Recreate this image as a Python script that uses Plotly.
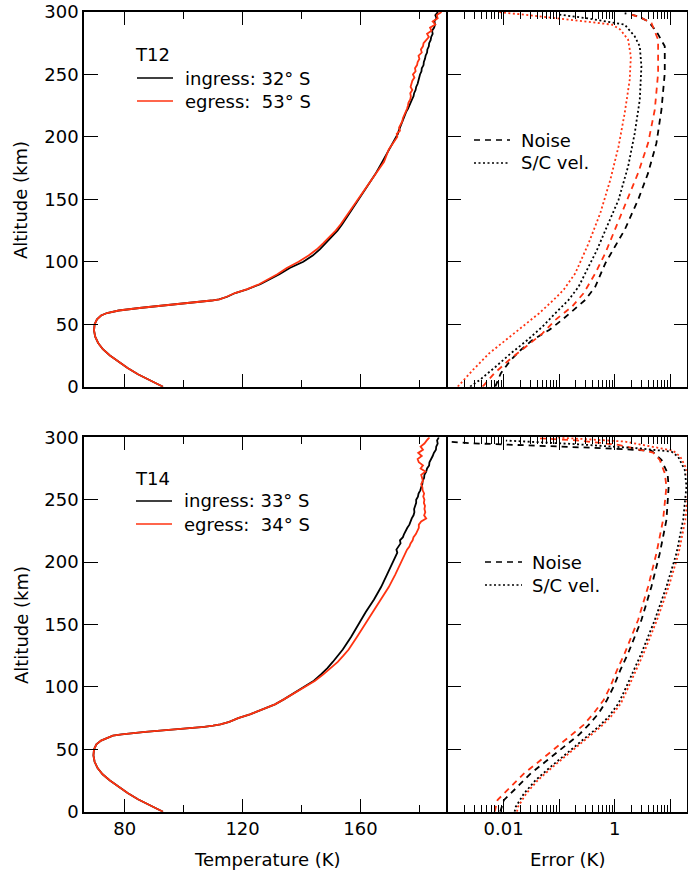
import plotly.graph_objects as go

# ---------------- DATA ----------------
# Temperature profiles (altitude km -> temperature K)
alt_T_low = [0, 5, 10, 15, 20, 25, 30, 35, 40, 45, 50, 54, 57, 59, 61, 62, 63, 64, 65, 66, 67, 68, 69, 70,
             72, 75, 78, 82, 86, 90, 95, 100, 105, 110, 115, 120, 125, 130, 140, 150, 160, 170, 180, 190]
alt_T_up = [200 + 2.5 * i for i in range(41)]
alt_T = alt_T_low + alt_T_up

t12_ing = [93.0, 88.5, 84.5, 81.0, 77.8, 75.0, 72.6, 71.0, 70.0, 69.6, 69.8, 70.6, 72.0, 74.0, 78.0, 81.0,
           85.0, 89.0, 93.5, 98.0, 102.5, 106.0, 109.5, 112.0, 114.8, 117.5, 121.5, 126.0, 129.5, 132.5,
           136.0, 140.6, 143.8, 146.2, 148.2, 150.2, 152.2, 153.8, 156.6, 159.3, 162.2, 165.0, 167.4, 169.8,
           172.2, 172.7, 173.0, 173.4, 173.7, 174.3, 174.5, 175.1, 175.5, 176.1, 176.5, 177.1, 177.5, 178.0,
           178.2, 178.7, 178.9, 179.4, 179.6, 180.0, 180.2, 180.7, 180.8, 181.4, 181.5, 181.9, 182.1, 182.6,
           182.7, 183.2, 183.3, 183.8, 184.0, 184.5, 184.3, 185.0, 185.3, 185.1, 185.8, 185.4, 186.3, 186.0, 186.9]
t12_egr = [93.0, 88.5, 84.5, 81.0, 77.8, 75.0, 72.6, 71.0, 70.0, 69.6, 69.8, 70.6, 72.0, 74.0, 78.0, 81.0,
           85.0, 89.0, 93.5, 98.0, 102.5, 106.0, 109.5, 112.2, 114.6, 117.4, 121.4, 125.6, 128.8, 131.8,
           135.0, 139.0, 142.4, 145.2, 147.4, 149.6, 151.6, 153.3, 156.3, 159.0, 162.0, 165.0, 168.0, 169.6,
           172.5, 172.3, 173.4, 173.1, 173.6, 174.2, 174.4, 174.9, 175.2, 175.8, 176.1, 176.3, 176.9, 177.1,
           176.9, 177.6, 177.0, 177.4, 177.6, 178.3, 177.8, 178.7, 178.5, 179.2, 179.4, 180.0, 179.7, 180.8,
           180.5, 181.2, 181.4, 182.3, 183.2, 182.6, 184.1, 183.6, 185.4, 184.5, 186.2, 185.9, 187.5]
t14_ing = [93.0, 88.5, 84.5, 81.0, 77.8, 75.0, 72.5, 70.8, 69.8, 69.4, 69.6, 70.4, 72.0, 74.0, 76.0, 79.0,
           82.5, 87.0, 92.0, 98.0, 103.0, 107.0, 110.0, 112.5, 115.5, 118.5, 122.5, 127.0, 131.0, 134.0,
           137.5, 141.0, 144.2, 146.6, 148.8, 150.6, 152.4, 154.0, 156.8, 159.2, 161.8, 164.6, 167.0, 169.0,
           171.0, 171.6, 171.9, 172.5, 172.2, 173.0, 173.6, 173.4, 174.4, 174.8, 175.3, 175.9, 176.6, 176.9,
           177.4, 178.0, 178.3, 178.2, 178.6, 178.9, 178.9, 179.5, 179.7, 180.3, 180.6, 181.0, 181.1, 181.6,
           181.7, 182.3, 182.6, 183.3, 183.4, 184.0, 184.5, 184.9, 185.6, 185.7, 186.2, 186.0, 186.6, 186.4, 186.8]
t14_egr = [93.0, 88.5, 84.5, 81.0, 77.8, 75.0, 72.5, 70.8, 69.8, 69.4, 69.6, 70.4, 72.0, 74.0, 76.0, 79.0,
           82.5, 87.0, 92.0, 98.0, 103.0, 107.0, 110.0, 112.5, 115.5, 118.5, 122.5, 127.0, 131.0, 134.0,
           137.5, 141.0, 144.6, 147.4, 150.0, 152.3, 154.2, 156.0, 158.8, 161.4, 164.2, 166.9, 169.6, 171.8,
           173.8, 174.3, 174.9, 175.4, 175.8, 176.6, 177.0, 177.7, 178.0, 178.8, 179.2, 179.8, 179.8, 180.6,
           182.3, 181.6, 182.0, 181.7, 181.9, 181.5, 181.7, 181.3, 181.6, 181.1, 181.0, 180.6, 181.2, 180.9,
           180.6, 182.0, 180.4, 181.2, 179.8, 179.4, 180.8, 179.6, 181.2, 180.4, 181.7, 182.5, 183.4, 184.6, 184.5]

# Error profiles (altitude km -> error K)
t12_noise_ing_alt = [0, 10.7, 21.4, 29.4, 37.4, 45.4, 53.4, 62.8, 69.5, 80.1, 98.8, 112.2, 125.6, 149.6,
                     171, 195, 221.7, 251, 272.5, 284.5, 292.5, 296.6, 299]
t12_noise_ing = [0.0071, 0.0089, 0.0135, 0.0204, 0.0331, 0.0661, 0.112, 0.195, 0.295, 0.447, 0.676, 1.01,
                 1.51, 2.63, 3.98, 5.62, 6.92, 7.94, 7.94, 5.62, 3.98, 2.63, 1.51]
t12_noise_egr_alt = [0, 10.7, 21.4, 32, 42.7, 53.4, 64.1, 74.8, 90.8, 106.9, 122.9, 144.3, 171, 195,
                     221.7, 251, 277.8, 291.2, 295.2, 297.9]
t12_noise_egr = [0.0042, 0.0068, 0.0126, 0.0251, 0.0501, 0.0851, 0.170, 0.275, 0.447, 0.676, 0.955, 1.51,
                 2.63, 3.98, 5.25, 6.03, 6.03, 4.57, 3.02, 2.0]
t12_vel_ing_alt = [0, 5.3, 16, 26.7, 37.4, 48.1, 58.8, 69.5, 80.1, 93.5, 109.5, 128.2, 149.6, 176.3, 203,
                   229.8, 256.5, 272.5, 280.5, 289.9, 291.2, 295.2, 297.9]
t12_vel_ing = [0.0025, 0.0037, 0.0072, 0.0135, 0.0269, 0.0501, 0.0851, 0.148, 0.224, 0.316, 0.479, 0.724,
               1.17, 1.74, 2.29, 2.82, 3.02, 2.82, 2.29, 1.51, 1.0, 0.295, 0.1]
t12_vel_egr_alt = [0, 13.4, 26.7, 37.4, 48.1, 58.8, 69.5, 77.5, 90.8, 114.9, 139, 165.6, 192.3, 219,
                   245.8, 264.5, 277.8, 285.9, 289.9, 293.9, 296.6, 300]
t12_vel_egr = [0.0015, 0.0028, 0.0055, 0.011, 0.0219, 0.0437, 0.0794, 0.120, 0.195, 0.339, 0.550, 0.832,
               1.17, 1.51, 1.86, 1.95, 1.74, 1.26, 0.891, 0.170, 0.0437, 0.0079]

t14_noise_ing_alt = [0, 9.4, 20, 30.7, 41.4, 52.1, 61.4, 69.5, 78.8, 89.5, 100.2, 113.5, 126.9, 153.6,
                     180.3, 207, 233.8, 260.5, 271.2, 281.9, 287.2, 289.3, 291.2, 293.1, 295.2, 296.6]
t14_noise_ing = [0.0087, 0.0102, 0.0178, 0.0309, 0.0617, 0.120, 0.224, 0.339, 0.513, 0.724, 0.955, 1.26,
                 1.74, 3.02, 4.57, 6.46, 8.51, 9.33, 8.91, 6.92, 5.25, 4.57, 0.676, 0.0437, 0.0028, 0.0009]
t14_noise_egr_alt = [0, 9.4, 20, 30.7, 41.4, 52.1, 61.4, 69.5, 78.8, 89.5, 100.2, 113.5, 126.9, 153.6,
                     180.3, 207, 233.8, 260.5, 271.2, 281.9, 287.7, 293.9, 297.4, 299.2]
t14_noise_egr = [0.0069, 0.0078, 0.0135, 0.0234, 0.0468, 0.0912, 0.170, 0.275, 0.417, 0.631, 0.832, 1.10,
                 1.51, 2.63, 3.98, 5.62, 7.41, 8.51, 7.94, 6.46, 4.90, 1.17, 0.224, 0.0437]
t14_vel_ing_alt = [0, 4, 14.7, 25.4, 36.1, 46.8, 57.4, 68.1, 76.1, 86.8, 100.2, 126.9, 153.6, 180.3, 207,
                   233.8, 260.5, 273.8, 284.5, 288.5, 291.2, 294.7, 297.4]
t14_vel_ing = [0.0158, 0.0166, 0.0234, 0.0380, 0.0708, 0.138, 0.275, 0.513, 0.776, 1.17, 1.62, 3.02, 5.25,
               8.51, 12.9, 17.0, 19.5, 18.2, 13.8, 10.5, 2.63, 0.170, 0.011]
t14_vel_egr_alt = [0, 4, 14.7, 25.4, 36.1, 46.8, 57.4, 68.1, 76.1, 86.8, 100.2, 126.9, 153.6, 180.3, 207,
                   233.8, 260.5, 273.8, 284.5, 289.3, 296.6, 300]
t14_vel_egr = [0.0174, 0.0182, 0.0257, 0.0417, 0.0776, 0.151, 0.302, 0.562, 0.851, 1.29, 1.78, 3.31, 5.75,
               9.33, 14.1, 18.6, 21.4, 20.0, 15.1, 11.2, 1.51, 0.0851]

temp_ticks = [80, 120, 160]
temp_minor = [100, 140, 180]
alt_ticks = [0, 50, 100, 150, 200, 250, 300]
err_ticks = [0.001, 0.01, 0.1, 1, 10]
err_ticktext = ["", "0.01", "", "1", ""]

# ---------------- LAYOUT ----------------
W, H = 688, 877
FONT = "DejaVu Sans"
BLACK = "#000000"
RED = "#ff3311"


def px_x(p):
    return p / W


def px_y(p):
    return 1 - p / H


xL = [px_x(84), px_x(448)]
xR = [px_x(448), px_x(687)]
yT = [px_y(386.7), px_y(12)]
yB = [px_y(811.7), px_y(437.3)]

fig = go.Figure()


def line(x, y, color, xa, ya, dash="solid", width=1.8):
    fig.add_trace(go.Scatter(x=x, y=y, mode="lines", xaxis=xa, yaxis=ya,
                             line=dict(color=color, width=width, dash=dash),
                             showlegend=False, hoverinfo="skip"))


DASH = "6px,5px"
DOT = "2px,2.5px"

line(t12_ing, alt_T, BLACK, "x", "y")
line(t12_egr, alt_T, RED, "x", "y")
line(t12_noise_ing, t12_noise_ing_alt, BLACK, "x2", "y2", DASH)
line(t12_noise_egr, t12_noise_egr_alt, RED, "x2", "y2", DASH)
line(t12_vel_ing, t12_vel_ing_alt, BLACK, "x2", "y2", DOT)
line(t12_vel_egr, t12_vel_egr_alt, RED, "x2", "y2", DOT)

line(t14_ing, alt_T, BLACK, "x3", "y3")
line(t14_egr, alt_T, RED, "x3", "y3")
line(t14_noise_ing, t14_noise_ing_alt, BLACK, "x4", "y4", DASH)
line(t14_noise_egr, t14_noise_egr_alt, RED, "x4", "y4", DASH)
line(t14_vel_ing, t14_vel_ing_alt, BLACK, "x4", "y4", DOT)
line(t14_vel_egr, t14_vel_egr_alt, RED, "x4", "y4", DOT)

tickfont = dict(family=FONT, size=18, color=BLACK)
common = dict(showline=True, linecolor=BLACK, linewidth=1.5, ticks="inside", tickcolor=BLACK,
              tickwidth=1.3, showgrid=False, zeroline=False, tickfont=tickfont, automargin=False)

err_minor = [m * 10 ** e for e in range(-3, 2) for m in range(2, 10)]

temp_x = dict(common, range=[66.2, 189.7], tickvals=temp_ticks, ticklen=13, mirror="ticks",
              minor=dict(tickvals=temp_minor, ticklen=7, ticks="inside", tickcolor=BLACK, tickwidth=1.3))
err_x = dict(common, type="log", range=[-3.0, 1.3], tickvals=err_ticks, ticktext=err_ticktext,
             ticklen=13, mirror="ticks",
             minor=dict(tickvals=err_minor, ticklen=7, ticks="inside", tickcolor=BLACK, tickwidth=1.1))
alt_y = dict(common, range=[0, 300], tickvals=alt_ticks, ticklen=14, mirror=False)
alt_y_r = dict(common, range=[0, 300], tickvals=alt_ticks, ticklen=13, mirror="ticks", showticklabels=False)

fig.update_layout(
    width=W, height=H, margin=dict(l=0, r=0, t=0, b=0, pad=0, autoexpand=False),
    paper_bgcolor="white", plot_bgcolor="white",
    font=dict(family=FONT, size=18, color=BLACK),
    xaxis=dict(temp_x, domain=xL, anchor="y", showticklabels=False),
    yaxis=dict(alt_y, domain=yT, anchor="x"),
    xaxis2=dict(err_x, domain=xR, anchor="y2", showticklabels=False),
    yaxis2=dict(alt_y_r, domain=yT, anchor="x2"),
    xaxis3=dict(temp_x, domain=xL, anchor="y3"),
    yaxis3=dict(alt_y, domain=yB, anchor="x3"),
    xaxis4=dict(err_x, domain=xR, anchor="y4"),
    yaxis4=dict(alt_y_r, domain=yB, anchor="x4"),
)

annotations = []
shapes = []


def text(s, x, y, xanchor="left", angle=0):
    annotations.append(dict(text=s, x=px_x(x), y=px_y(y), xref="paper", yref="paper",
                            xanchor=xanchor, yanchor="middle", showarrow=False, textangle=angle,
                            font=dict(family=FONT, size=18, color=BLACK)))


def sample(x0, x1, y, color, dash="solid"):
    shapes.append(dict(type="line", xref="paper", yref="paper", x0=px_x(x0), x1=px_x(x1),
                       y0=px_y(y), y1=px_y(y), line=dict(color=color, width=1.5, dash=dash)))


# axis titles
text("Altitude (km)", 21, 200, "center", -90)
text("Altitude (km)", 21, 625, "center", -90)
text("Temperature (K)", 267, 859, "center")
text("Error (K)", 567, 859, "center")

# legends top
text("T12", 133, 55)
sample(137, 173, 78, BLACK)
text("ingress: 32° S", 183, 78)
sample(137, 173, 101, RED)
text("egress:\u00a0 53° S", 183, 101)
sample(474, 510, 140, BLACK, DASH)
text("Noise", 519, 140)
sample(474, 510, 163, BLACK, DOT)
text("S/C vel.", 519, 163)

# legends bottom
text("T14", 133, 478)
sample(136, 172, 501, BLACK)
text("ingress: 33° S", 182, 501)
sample(136, 172, 524, RED)
text("egress:\u00a0 34° S", 182, 524)
sample(485, 522, 562, BLACK, DASH)
text("Noise", 530, 562)
sample(485, 522, 585, BLACK, DOT)
text("S/C vel.", 530, 585)

fig.update_layout(annotations=annotations, shapes=shapes)

fig.write_html("out.html", config={"displayModeBar": False},
               post_script="document.body.style.margin='0';document.body.style.padding='0';")
